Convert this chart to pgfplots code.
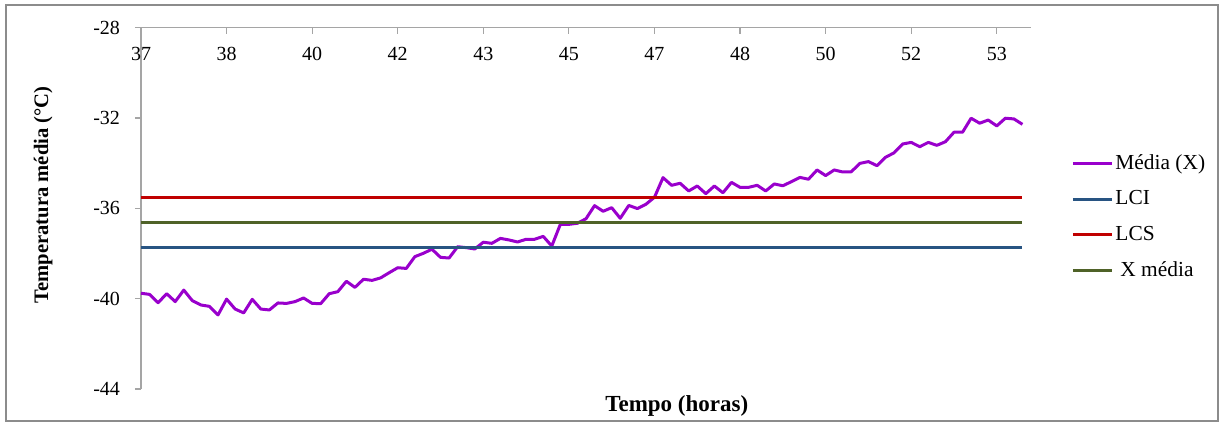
\documentclass[border=0pt]{standalone}
\usepackage{fontspec}
\setmainfont{Liberation Serif}
\usepackage{pgfplots}
\pgfplotsset{compat=1.18}

\definecolor{mediaX}{RGB}{153,0,204}
\definecolor{lci}{RGB}{40,84,130}
\definecolor{lcs}{RGB}{192,0,0}
\definecolor{xmed}{RGB}{79,98,40}
\definecolor{axisgray}{RGB}{165,165,165}
\definecolor{framegray}{RGB}{140,140,140}

% Mean temperature, one reading every 10 minutes (index 0 = 37 h)
\pgfplotstableread{
i   t
0   -39.76
1   -39.81
2   -40.18
3   -39.78
4   -40.13
5   -39.62
6   -40.09
7   -40.28
8   -40.34
9   -40.72
10  -40.02
11  -40.46
12  -40.63
13  -40.03
14  -40.46
15  -40.50
16  -40.19
17  -40.21
18  -40.13
19  -39.97
20  -40.21
21  -40.22
22  -39.78
23  -39.69
24  -39.23
25  -39.50
26  -39.14
27  -39.19
28  -39.08
29  -38.85
30  -38.63
31  -38.66
32  -38.14
33  -37.99
34  -37.81
35  -38.17
36  -38.20
37  -37.70
38  -37.74
39  -37.80
40  -37.50
41  -37.55
42  -37.33
43  -37.40
44  -37.49
45  -37.37
46  -37.37
47  -37.24
48  -37.67
49  -36.71
50  -36.71
51  -36.66
52  -36.46
53  -35.88
54  -36.13
55  -35.97
56  -36.44
57  -35.87
58  -36.01
59  -35.82
60  -35.51
61  -34.64
62  -34.98
63  -34.89
64  -35.23
65  -35.01
66  -35.35
67  -35.01
68  -35.31
69  -34.85
70  -35.07
71  -35.07
72  -34.98
73  -35.23
74  -34.92
75  -35.00
76  -34.82
77  -34.63
78  -34.71
79  -34.30
80  -34.55
81  -34.30
82  -34.39
83  -34.38
84  -34.01
85  -33.93
86  -34.11
87  -33.74
88  -33.54
89  -33.15
90  -33.08
91  -33.27
92  -33.08
93  -33.21
94  -33.05
95  -32.63
96  -32.63
97  -32.01
98  -32.23
99  -32.09
100 -32.35
101 -32.01
102 -32.04
103 -32.28
}\media

\begin{document}
\begin{tikzpicture}[x=1pt,y=1pt]
\useasboundingbox (-70.5,-18.5) rectangle (541.5,194.5);
\draw[framegray, line width=0.6pt] (-67.5,-16) rectangle (538.5,192);
\begin{axis}[
  at={(0,0)}, anchor=south west,
  scale only axis, width=445pt, height=180.65pt,
  xmin=0, xmax=104, ymin=-44, ymax=-28,
  axis x line*=top, axis y line*=left,
  axis line style={axisgray, line width=0.6pt},
  tick style={axisgray, line width=0.6pt},
  major tick length=3pt,
  xtick align=inside, ytick align=outside,
  xtick={0,10,...,100},
  xticklabels={37,38,40,42,43,45,47,48,50,52,53},
  ytick={-44,-40,-36,-32,-28},
  /pgf/number format/assume math mode=true,
  xticklabel style={anchor=center, yshift=-13pt, text=black},
  yticklabel style={xshift=-4pt, text=black},
  xlabel={Tempo (horas)},
  ylabel={Temperatura média (°C)},
  xlabel style={at={(axis description cs:0.602,-0.0470)}, anchor=center,
    font=\fontsize{11.5}{13}\selectfont\bfseries},
  ylabel style={at={(axis description cs:-0.110,0.537)}, anchor=center,
    font=\fontsize{10.3}{12}\selectfont\bfseries},
  legend style={at={(axis description cs:1.045,0.650)}, anchor=north west,
    draw=none, fill=none, inner sep=0pt, row sep=9.2pt,
    font=\fontsize{10.7}{12}\selectfont,
    nodes={inner xsep=1pt, inner ysep=0pt}},
  legend cell align=left,
  legend image code/.code={\draw[#1] (0pt,0pt) -- (19.5pt,0pt);},
]
\addplot[mediaX, line width=1.5pt, line join=round] table[x=i, y=t] {\media};
\addlegendentry{Média (X)}
\addplot[lci, line width=1.5pt] coordinates {(0,-37.74) (103,-37.74)};
\addlegendentry{LCI}
\addplot[lcs, line width=1.5pt] coordinates {(0,-35.51) (103,-35.51)};
\addlegendentry{LCS}
\addplot[xmed, line width=1.5pt] coordinates {(0,-36.62) (103,-36.62)};
\addlegendentry{\hspace{2.5pt}X média}
\end{axis}
\end{tikzpicture}
\end{document}
